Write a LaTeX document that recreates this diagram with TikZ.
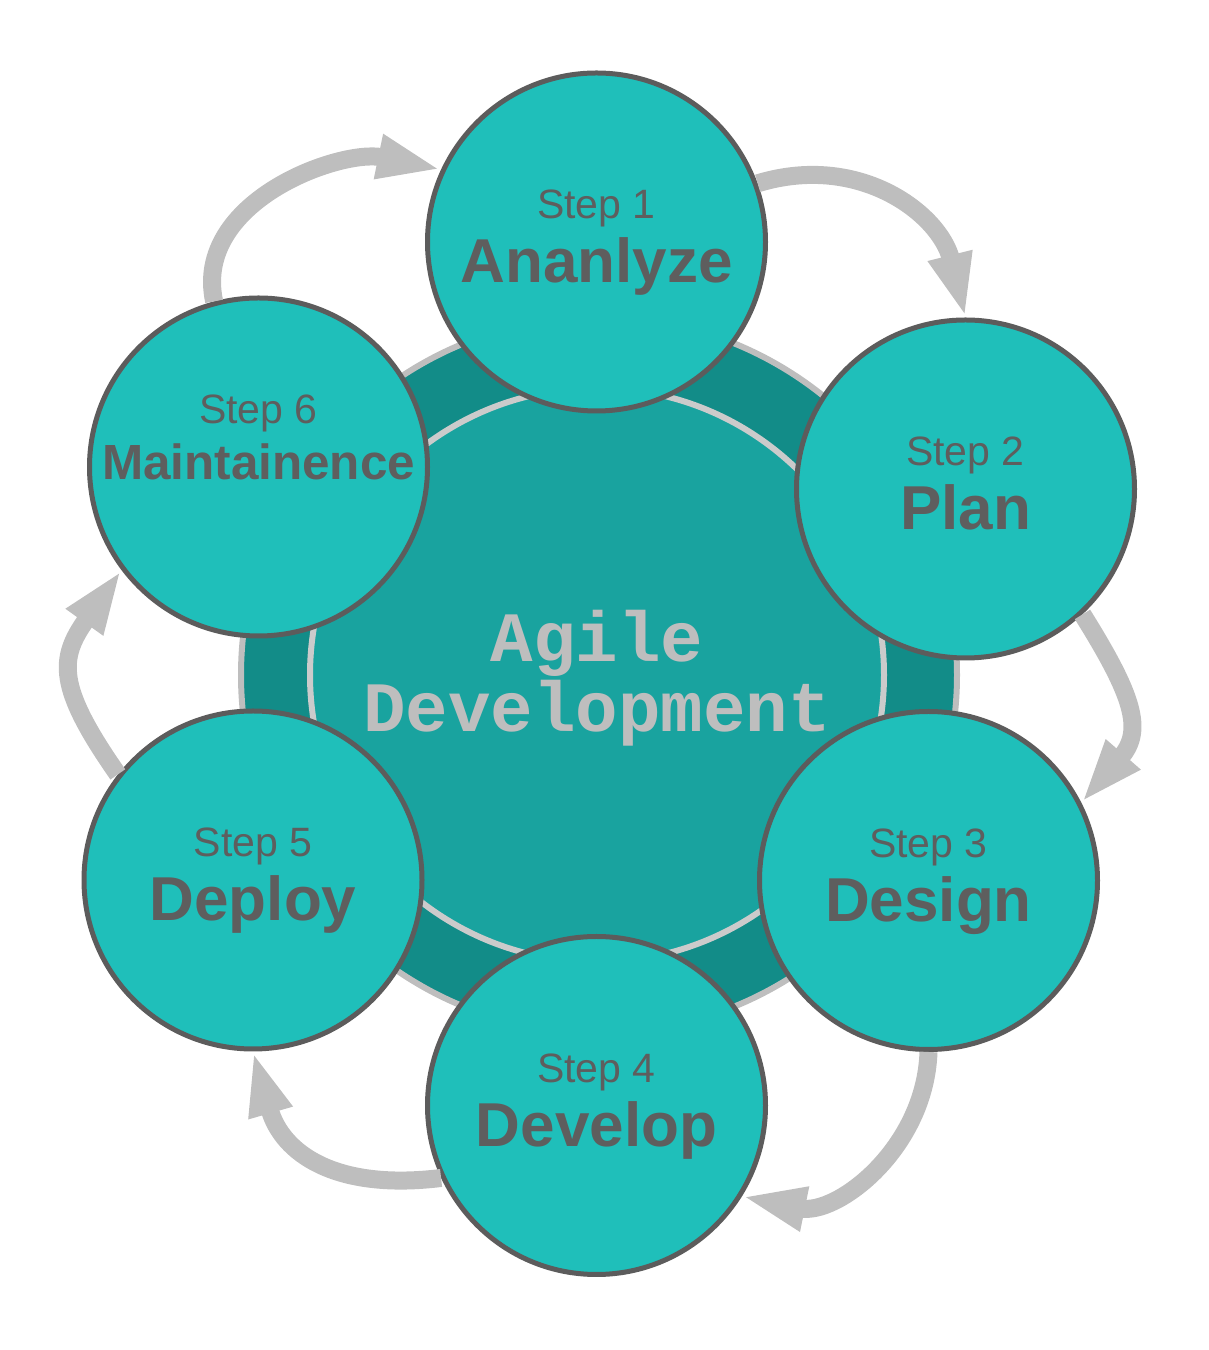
\documentclass[tikz,border=0pt]{standalone}
\usepackage{fontspec}
\setmainfont{Liberation Sans}
\newfontfamily\agilefont{Liberation Mono}
\usetikzlibrary{arrows.meta}
\definecolor{stepfill}{HTML}{1FBFBA}
\definecolor{ringfill}{HTML}{128C88}
\definecolor{hubfill}{HTML}{19A39F}
\definecolor{rimgray}{HTML}{5C5C5C}
\definecolor{flowgray}{HTML}{BEBEBE}
\definecolor{txtgray}{HTML}{5E5E5E}

\begin{document}
\begin{tikzpicture}[x=0.5pt,y=0.5pt,
                    stepcirc/.style={circle,draw=rimgray,line width=2.5pt,fill=stepfill,
                                     minimum size=169pt,inner sep=0pt},
                    steptag/.style={anchor=base,text=txtgray,inner sep=0pt,
                                    font=\fontsize{20.5}{24}\selectfont},
                    stepname/.style={anchor=base,text=txtgray,inner sep=0pt,
                                     font=\bfseries\fontsize{31}{36}\selectfont},
                    flow/.style={draw=flowgray,line width=9pt,
                                 -{Triangle[length=32pt,width=20.5pt]}}]
	\useasboundingbox (0,0) rectangle (1209,1350);
	% centre
	\node[circle,fill=ringfill,draw=flowgray,line width=3pt,minimum size=358pt]	(ring)	at (599,675)	{};
	\node[circle,fill=hubfill,draw=flowgray!80,line width=3pt,minimum size=287pt]	(hub)	at (597,675)	{};
	\node[align=center,inner sep=0pt,text=flowgray,
	      font=\agilefont\bfseries\fontsize{35.4}{35}\selectfont]	(title)	at (597,672)	{Agile\\Development};
	% steps
	\node[stepcirc]		(s1)	at (596.5,1108)		{};
	\node[stepcirc]		(s2)	at (965.5,861)		{};
	\node[stepcirc]		(s3)	at (928.5,469.5)	{};
	\node[stepcirc]		(s4)	at (596.5,244.5)	{};
	\node[stepcirc]		(s5)	at (253,470)		{};
	\node[stepcirc]		(s6)	at (258.5,883)		{};
	\node[steptag]		(t1)	at ([yshift=11.5pt]s1.center)	{Step 1};
	\node[stepname]		(n1)	at ([yshift=-20.5pt]s1.center)	{Ananlyze};
	\node[steptag]		(t2)	at ([yshift=11.5pt]s2.center)	{Step 2};
	\node[stepname]		(n2)	at ([yshift=-20.5pt]s2.center)	{Plan};
	\node[steptag]		(t3)	at ([yshift=11.5pt]s3.center)	{Step 3};
	\node[stepname]		(n3)	at ([yshift=-20.5pt]s3.center)	{Design};
	\node[steptag]		(t4)	at ([yshift=11.5pt]s4.center)	{Step 4};
	\node[stepname]		(n4)	at ([yshift=-20.5pt]s4.center)	{Develop};
	\node[steptag]		(t5)	at ([yshift=11.5pt]s5.center)	{Step 5};
	\node[stepname]		(n5)	at ([yshift=-20.5pt]s5.center)	{Deploy};
	\node[steptag]		(t6)	at ([yshift=21.5pt]s6.center)	{Step 6};
	\node[stepname,font=\bfseries\fontsize{24.7}{30}\selectfont]	(n6)	at ([yshift=-6.5pt]s6.center)	{Maintainence};
	% cycle
	\path	(s1.20)		edge[flow,out=17,in=104,looseness=1.1]		(s2.90)
		(s2.-47.5)	edge[flow,out=-58,in=49,looseness=1.3]		(s3.27.5)
		(s3.-90)	edge[flow,out=-92,in=-11.5,looseness=1.05]	(s4.-32)
		(s4.205.7)	edge[flow,out=187,in=-74,looseness=1.2]		(s5.-90)
		(s5.142.7)	edge[flow,out=125,in=234.5,looseness=1.35]	(s6.217)
		(s6.105)	edge[flow,out=102,in=168.3,looseness=1]		(s1.155);
\end{tikzpicture}
\end{document}
